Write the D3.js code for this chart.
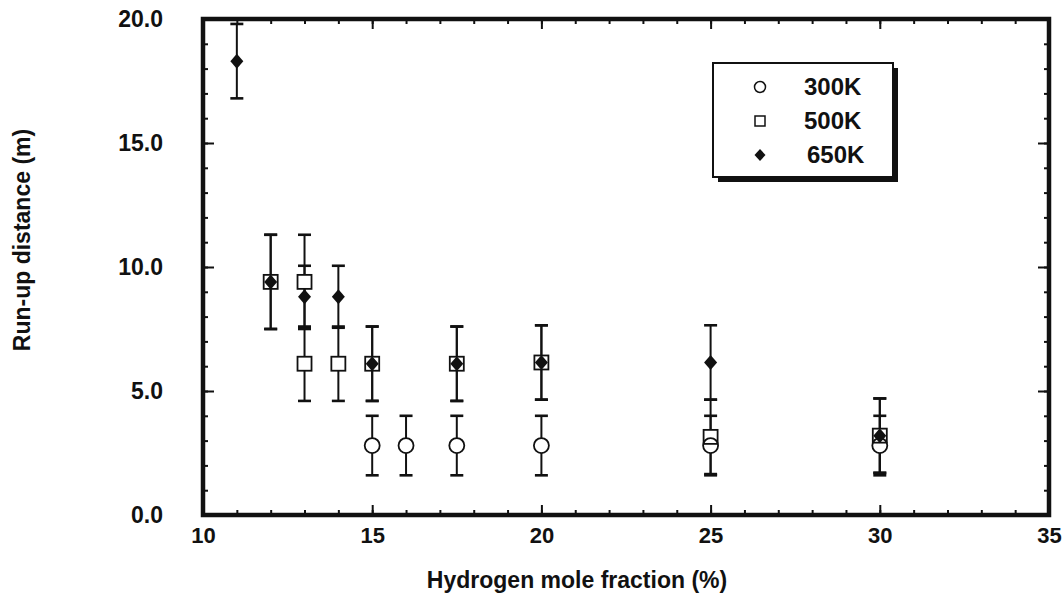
<!DOCTYPE html>
<html>
<head>
<meta charset="utf-8">
<script src="https://cdn.jsdelivr.net/npm/d3@7/dist/d3.min.js"></script>
<style>
  html, body { margin: 0; padding: 0; background: #fff; }
  svg { display: block; }
  text { font-family: "Liberation Sans", Arial, Helvetica, sans-serif; font-weight: bold; fill: #111; }
</style>
</head>
<body>
<svg id="chart" width="1064" height="612"></svg>
<script>
// Run-up distance vs hydrogen mole fraction, three initial temperatures
const seriesNames = ["300K", "500K", "650K"];

const x300 = [15, 16, 17.5, 20, 25, 30];
const y300 = [2.8, 2.8, 2.8, 2.8, 2.8, 2.8];
const e300 = [1.2, 1.2, 1.2, 1.2, 1.2, 1.2];

const x500 = [12, 13, 13, 14, 15, 17.5, 20, 25, 30];
const y500 = [9.4, 9.4, 6.1, 6.1, 6.1, 6.1, 6.15, 3.15, 3.2];
const e500 = [1.9, 1.9, 1.5, 1.5, 1.5, 1.5, 1.5, 1.5, 1.5];

const x650 = [11, 12, 13, 14, 15, 17.5, 20, 25, 30];
const y650 = [18.3, 9.4, 8.8, 8.8, 6.1, 6.1, 6.15, 6.15, 3.2];
const e650 = [1.5, 1.9, 1.25, 1.25, 1.5, 1.5, 1.5, 1.5, 1.5];

const xTickValues = [10, 15, 20, 25, 30, 35];
const yTickValues = [0, 5, 10, 15, 20];

const xTitle = "Hydrogen mole fraction (%)";
const yTitle = "Run-up distance (m)";

const svg = d3.select("#chart");
const margin = { left: 203, right: 15, top: 19, bottom: 97 };
const W = 1064, H = 612;
const plotW = W - margin.left - margin.right;
const plotH = H - margin.top - margin.bottom;

const x = d3.scaleLinear().domain([10, 35]).range([margin.left, margin.left + plotW]);
const y = d3.scaleLinear().domain([0, 20]).range([margin.top + plotH, margin.top]);

const ink = "#111";
const minorX = d3.range(10, 35.01, 1);
const minorY = d3.range(0, 20.01, 1);

// inward ticks on all four sides
function tickAxis(axisFn, scale, vals, len, translate) {
  const g = svg.append("g").attr("transform", translate)
    .call(axisFn(scale).tickValues(vals).tickSize(len).tickFormat(""));
  g.select(".domain").remove();
  g.selectAll(".tick line").attr("stroke", ink).attr("stroke-width", 2);
  return g;
}
const bottomY = y(0), topY = y(20), leftX = x(10), rightX = x(35);
tickAxis(d3.axisTop, x, minorX, 5, `translate(0,${bottomY})`);
tickAxis(d3.axisTop, x, xTickValues, 10, `translate(0,${bottomY})`);
tickAxis(d3.axisBottom, x, minorX, 5, `translate(0,${topY})`);
tickAxis(d3.axisBottom, x, xTickValues, 10, `translate(0,${topY})`);
tickAxis(d3.axisRight, y, minorY, 5, `translate(${leftX},0)`);
tickAxis(d3.axisRight, y, yTickValues, 11, `translate(${leftX},0)`);
tickAxis(d3.axisLeft, y, minorY, 5, `translate(${rightX},0)`);
tickAxis(d3.axisLeft, y, yTickValues, 11, `translate(${rightX},0)`);

// frame
svg.append("rect")
  .attr("x", leftX).attr("y", topY)
  .attr("width", rightX - leftX).attr("height", bottomY - topY)
  .attr("fill", "none").attr("stroke", ink).attr("stroke-width", 4.5);

// tick labels
const xLab = svg.append("g").attr("transform", `translate(0,${bottomY})`)
  .call(d3.axisBottom(x).tickValues(xTickValues).tickSize(0).tickPadding(12).tickFormat(d3.format("d")));
xLab.select(".domain").remove();
xLab.selectAll("text").attr("font-size", 22).attr("fill", ink)
  .attr("font-family", "'Liberation Sans', Arial, sans-serif").attr("font-weight", "bold");

const yLab = svg.append("g").attr("transform", `translate(${leftX},0)`)
  .call(d3.axisLeft(y).tickValues(yTickValues).tickSize(0).tickPadding(40).tickFormat(d3.format(".1f")));
yLab.select(".domain").remove();
yLab.selectAll("text").attr("font-size", 23).attr("fill", ink)
  .attr("font-family", "'Liberation Sans', Arial, sans-serif").attr("font-weight", "bold");

// axis titles
svg.append("text").attr("x", 577).attr("y", 588)
  .attr("text-anchor", "middle").attr("font-size", 23).text(xTitle);
svg.append("text").attr("transform", `translate(30,240) rotate(-90)`)
  .attr("text-anchor", "middle").attr("font-size", 23).text(yTitle);

// data points
const pts = (xs, ys, es, name) => xs.map((v, i) => ({ x: v, y: ys[i], e: es[i], s: name }));
const p300 = pts(x300, y300, e300, seriesNames[0]);
const p500 = pts(x500, y500, e500, seriesNames[1]);
const p650 = pts(x650, y650, e650, seriesNames[2]);
const all = p300.concat(p500, p650);

// error bars
const cap = 6.5;
const eb = svg.append("g").attr("stroke", ink).attr("stroke-width", 2);
eb.selectAll("line.v").data(all).join("line")
  .attr("x1", d => x(d.x)).attr("x2", d => x(d.x))
  .attr("y1", d => y(d.y - d.e)).attr("y2", d => y(d.y + d.e));
eb.selectAll("line.lo").data(all).join("line").attr("class", "lo")
  .attr("x1", d => x(d.x) - cap).attr("x2", d => x(d.x) + cap)
  .attr("y1", d => y(d.y - d.e)).attr("y2", d => y(d.y - d.e)).attr("stroke-width", 2.6);
eb.selectAll("line.hi").data(all).join("line").attr("class", "hi")
  .attr("x1", d => x(d.x) - cap).attr("x2", d => x(d.x) + cap)
  .attr("y1", d => y(d.y + d.e)).attr("y2", d => y(d.y + d.e)).attr("stroke-width", 2.6);

// marker shapes
const circR = 7.5, sqH = 7;
const diamond = (w, h) => `M0,${-h}L${w},0L0,${h}L${-w},0Z`;

// white backgrounds for open markers, then outlines on top
const bg = svg.append("g").attr("fill", "#fff");
bg.selectAll("circle").data(p300).join("circle")
  .attr("cx", d => x(d.x)).attr("cy", d => y(d.y)).attr("r", circR);
bg.selectAll("rect").data(p500).join("rect")
  .attr("x", d => x(d.x) - sqH).attr("y", d => y(d.y) - sqH)
  .attr("width", 2 * sqH).attr("height", 2 * sqH);

const ol = svg.append("g").attr("fill", "none").attr("stroke", ink).attr("stroke-width", 1.8);
ol.selectAll("rect").data(p500).join("rect")
  .attr("x", d => x(d.x) - sqH).attr("y", d => y(d.y) - sqH)
  .attr("width", 2 * sqH).attr("height", 2 * sqH);
ol.selectAll("circle").data(p300).join("circle")
  .attr("cx", d => x(d.x)).attr("cy", d => y(d.y)).attr("r", circR);

svg.append("g").selectAll("path").data(p650).join("path")
  .attr("transform", d => `translate(${x(d.x)},${y(d.y)})`)
  .attr("d", diamond(6.5, 7.5)).attr("fill", ink);

// legend with drop shadow
const lg = svg.append("g").attr("transform", "translate(713,63)");
const lw = 180, lh = 114;
lg.append("rect").attr("x", 5).attr("y", 5).attr("width", lw).attr("height", lh).attr("fill", ink);
lg.append("rect").attr("width", lw).attr("height", lh).attr("fill", "#fff")
  .attr("stroke", ink).attr("stroke-width", 2);
const rows = lg.selectAll("g.row").data(seriesNames).join("g")
  .attr("transform", (d, i) => `translate(47,${24 + i * 34})`);
rows.each(function (d, i) {
  const g = d3.select(this);
  if (i === 0) g.append("circle").attr("r", 5.5).attr("fill", "none").attr("stroke", ink).attr("stroke-width", 1.5);
  if (i === 1) g.append("rect").attr("x", -5).attr("y", -5).attr("width", 10).attr("height", 10)
    .attr("fill", "none").attr("stroke", ink).attr("stroke-width", 1.5);
  if (i === 2) g.append("path").attr("d", diamond(5.5, 6)).attr("fill", ink);
});
rows.append("text").attr("x", (d, i) => i === 2 ? 47 : 44).attr("y", 8)
  .attr("font-size", 24).text(d => d);
</script>
</body>
</html>
